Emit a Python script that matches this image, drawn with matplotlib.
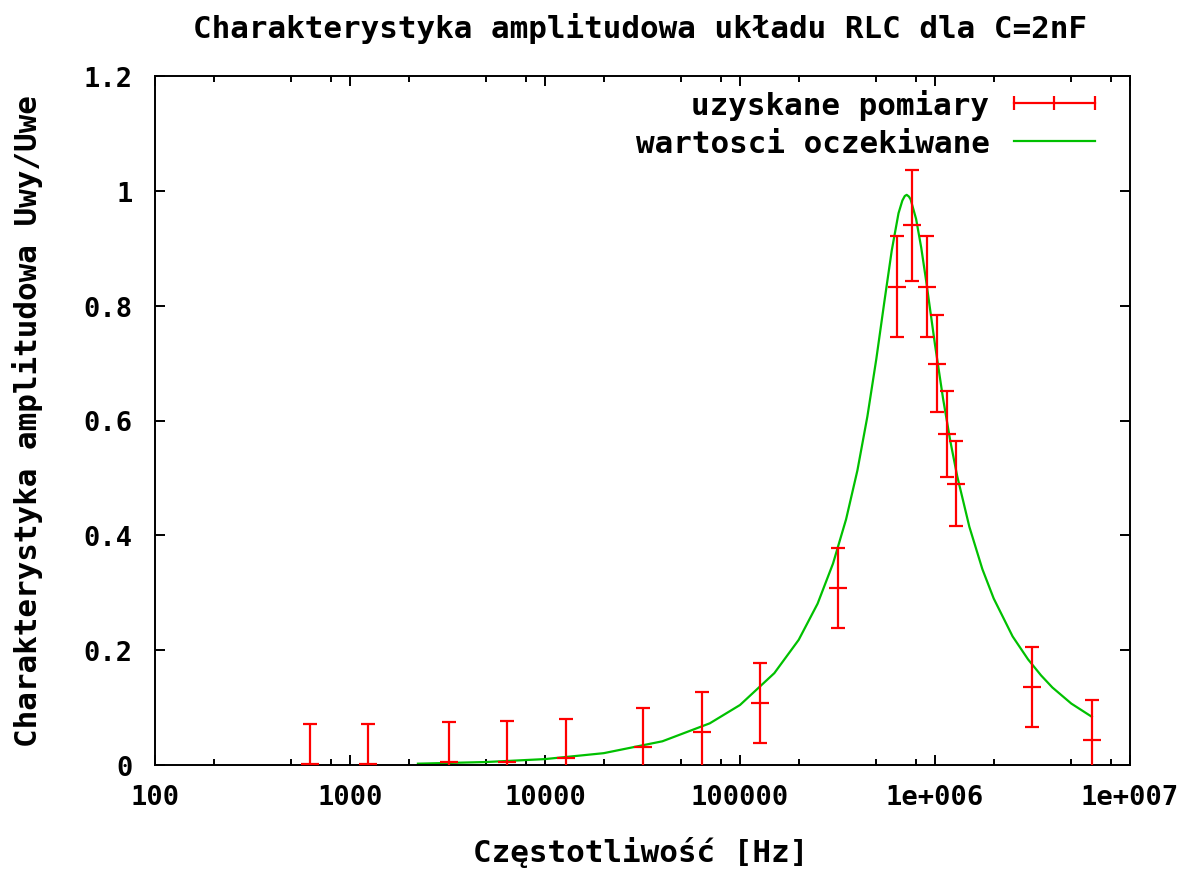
import matplotlib
matplotlib.use('Agg')
import matplotlib.pyplot as plt
from matplotlib.lines import Line2D
from matplotlib.ticker import FixedLocator, FixedFormatter, LogLocator, NullFormatter

# uzyskane pomiary: czestotliwosc [Hz], Uwy/Uwe, blad
czest = [620, 1230, 3220, 6410, 12760, 31900, 63800, 126800, 319000, 636000,
         765000, 906000, 1028000, 1157000, 1282000, 3150000, 6370000]
amp = [0.001, 0.001, 0.005, 0.006, 0.012, 0.031, 0.058, 0.108, 0.308, 0.833,
       0.940, 0.833, 0.699, 0.577, 0.490, 0.136, 0.044]
blad = [0.070, 0.070, 0.070, 0.070, 0.068, 0.068, 0.070, 0.070, 0.070, 0.088,
        0.097, 0.088, 0.084, 0.075, 0.074, 0.070, 0.070]

# wartosci oczekiwane
czest_teor = [2230, 5000, 10000, 20000, 40000, 70000, 100000, 150000, 200000,
              250000, 300000, 350000, 400000, 450000, 500000, 550000, 600000,
              650000, 680000, 700000, 716000, 735000, 750000, 800000, 850000,
              900000, 1000000, 1100000, 1200000, 1300000, 1500000, 1750000,
              2000000, 2500000, 3000000, 3500000, 4000000, 5000000, 6370000]
amp_teor = [0.0023, 0.0052, 0.0103, 0.0206, 0.0413, 0.0726, 0.1045, 0.160,
            0.218, 0.281, 0.351, 0.428, 0.513, 0.607, 0.707, 0.807, 0.896,
            0.961, 0.983, 0.991, 0.993, 0.990, 0.985, 0.951, 0.901, 0.844,
            0.732, 0.638, 0.563, 0.503, 0.415, 0.341, 0.290, 0.224, 0.184,
            0.156, 0.135, 0.107, 0.084]

x_ticki = [100, 1000, 10000, 100000, 1000000, 10000000]
x_etykiety = ['100', '1000', '10000', '100000', '1e+006', '1e+007']
y_ticki = [0, 0.2, 0.4, 0.6, 0.8, 1.0, 1.2]
y_etykiety = ['0', '0.2', '0.4', '0.6', '0.8', '1', '1.2']

czerwony = '#ff0000'
zielony = '#00c000'
font = {'family': 'DejaVu Sans Mono', 'weight': 'bold'}

fig = plt.figure(figsize=(11.92, 8.7), dpi=100)
ax = fig.add_axes([155 / 1192, 104 / 870, 975 / 1192, 689 / 870])

ax.errorbar(czest, amp, yerr=blad, fmt='_', color=czerwony, ecolor=czerwony,
            markersize=13, markeredgewidth=1.6, elinewidth=1.6, capsize=4.7,
            capthick=1.6, zorder=3)
ax.plot(czest_teor, amp_teor, color=zielony, lw=1.6, zorder=2)

ax.set_xscale('log')
ax.set_xlim(100, 1e7)
ax.set_ylim(0, 1.2)

ax.xaxis.set_major_locator(FixedLocator(x_ticki))
ax.xaxis.set_major_formatter(FixedFormatter(x_etykiety))
ax.xaxis.set_minor_locator(LogLocator(base=10, subs=[2, 5, 8]))
ax.xaxis.set_minor_formatter(NullFormatter())
ax.yaxis.set_major_locator(FixedLocator(y_ticki))
ax.yaxis.set_major_formatter(FixedFormatter(y_etykiety))

ax.tick_params(which='both', direction='in', top=True, right=True, width=1.4, color='black')
ax.tick_params(which='major', length=7, labelsize=19.5)
ax.tick_params(axis='y', which='major', pad=16)
ax.tick_params(axis='x', which='major', pad=14)
ax.tick_params(which='minor', length=4.5)
for lab in ax.get_xticklabels() + ax.get_yticklabels():
    lab.set_fontfamily('DejaVu Sans Mono')
    lab.set_fontweight('bold')
for s in ax.spines.values():
    s.set_linewidth(1.4)

fig.text(640 / 1192, 1 - 28 / 870, 'Charakterystyka amplitudowa układu RLC dla C=2nF',
         ha='center', va='center', fontsize=22.3, **font)
fig.text(641 / 1192, 1 - 853 / 870, 'Częstotliwość [Hz]',
         ha='center', va='center', fontsize=22.3, **font)
fig.text(28 / 1192, 1 - 421 / 870, 'Charakterystyka amplitudowa Uwy/Uwe',
         ha='center', va='center', rotation=90, fontsize=22.3, **font)

uchwyty = [Line2D([], [], color=czerwony, lw=1.6, marker='|', markersize=10, markeredgewidth=1.6),
           Line2D([], [], color=zielony, lw=1.6)]
ax.legend(uchwyty, ['uzyskane pomiary', 'wartosci oczekiwane'],
          loc='upper right', bbox_to_anchor=(1104 / 1192, 1 - 90 / 870),
          bbox_transform=fig.transFigure, frameon=False, markerfirst=False,
          numpoints=3, handlelength=3.2, handletextpad=0.5, labelspacing=0.28,
          borderpad=0, borderaxespad=0, prop={'family': 'DejaVu Sans Mono', 'weight': 'bold', 'size': 22.3})

fig.savefig('out.png', dpi=100)
